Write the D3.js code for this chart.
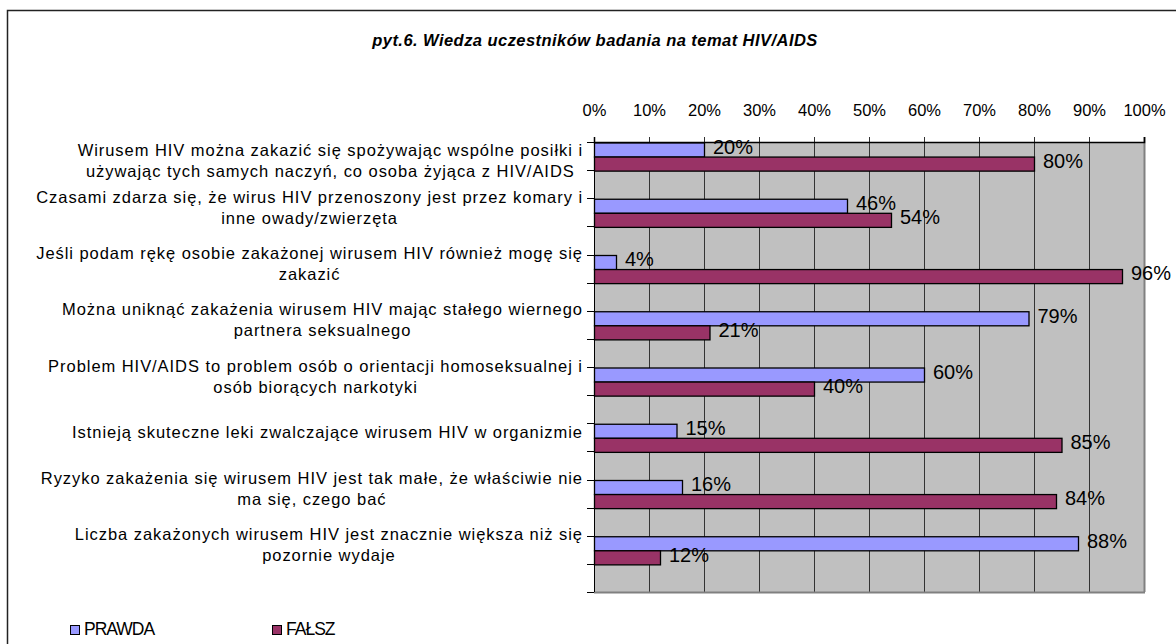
<!DOCTYPE html>
<html>
<head>
<meta charset="utf-8">
<script src="https://cdn.jsdelivr.net/npm/d3@7"></script>
<style>
  body { margin: 0; background: #fff; }
  svg { display: block; font-family: "Liberation Sans", Arial, sans-serif; }
</style>
</head>
<body>
<div id="chart"></div>
<script>
// pyt.6 – knowledge about HIV/AIDS, share of PRAWDA / FAŁSZ answers per statement.

const categories = [
  ["Wirusem HIV można zakazić się spożywając wspólne posiłki i", "używając tych samych naczyń, co osoba żyjąca z HIV/AIDS"],
  ["Czasami zdarza się, że wirus HIV przenoszony jest przez komary i", "inne owady/zwierzęta"],
  ["Jeśli podam rękę osobie zakażonej wirusem HIV również mogę się", "zakazić"],
  ["Można uniknąć zakażenia wirusem HIV mając stałego wiernego", "partnera seksualnego"],
  ["Problem HIV/AIDS to problem osób o orientacji homoseksualnej i", "osób biorących narkotyki"],
  ["Istnieją skuteczne leki zwalczające wirusem HIV w organizmie"],
  ["Ryzyko zakażenia się wirusem HIV jest tak małe, że właściwie nie", "ma się, czego bać"],
  ["Liczba zakażonych wirusem HIV jest znacznie większa niż się", "pozornie wydaje"],
];
const seriesNames = ["PRAWDA", "FAŁSZ"];
const prawda = [20, 46, 4, 79, 60, 15, 16, 88];
const falsz = [80, 54, 96, 21, 40, 85, 84, 12];
const xTicks = [0, 10, 20, 30, 40, 50, 60, 70, 80, 90, 100];
const colors = ["#9999ff", "#993366"];

const width = 1176, height = 644;
const m = { top: 142, right: 32, bottom: 52, left: 594 };
const iw = width - m.left - m.right;
const ih = height - m.top - m.bottom;

const svg = d3.select("#chart").append("svg")
  .attr("width", width).attr("height", height).attr("viewBox", `0 0 ${width} ${height}`);

// outer chart frame (runs off the right and bottom edges)
svg.append("rect").attr("x", 7.5).attr("y", 10.5).attr("width", width + 10).attr("height", height + 10)
  .attr("fill", "none").attr("stroke", "#222").attr("stroke-width", 1.5);

svg.append("text").attr("x", 595).attr("y", 46).attr("text-anchor", "middle")
  .attr("font-size", 16.5).attr("font-weight", "bold").attr("font-style", "italic")
  .attr("letter-spacing", 0.45)
  .text("pyt.6. Wiedza uczestników badania na temat HIV/AIDS");

const g = svg.append("g").attr("transform", `translate(${m.left},${m.top})`);

const x = d3.scaleLinear().domain([0, 100]).range([0, iw]);
const y = d3.scaleBand().domain(d3.range(categories.length)).range([0, ih]);
const barH = y.bandwidth() / 4;

g.append("rect").attr("width", iw).attr("height", ih).attr("fill", "#c0c0c0");

// vertical grid lines, extended upward as tick marks
g.append("g").selectAll("line").data(xTicks.slice(1)).join("line")
  .attr("x1", (d) => Math.round(x(d)) + 0.5).attr("x2", (d) => Math.round(x(d)) + 0.5)
  .attr("y1", -5).attr("y2", ih)
  .attr("stroke", (d) => (d === 100 ? "#808080" : "#333")).attr("stroke-width", (d) => (d === 100 ? 2 : 1));

g.append("line").attr("x1", 0).attr("x2", iw + 1).attr("y1", ih + 0.5).attr("y2", ih + 0.5)
  .attr("stroke", "#808080").attr("stroke-width", 2);

// top value axis
const xAxis = g.append("g").call(d3.axisTop(x).tickValues(xTicks).tickSize(5).tickFormat((d) => d + "%"));
xAxis.select(".domain").attr("stroke", "#000").attr("stroke-width", 1.5);
xAxis.selectAll(".tick line").remove();
xAxis.selectAll("text").attr("font-size", 16.5).attr("fill", "#000")
  .attr("font-family", "Liberation Sans, Arial, sans-serif").attr("y", -26);

// left category axis with ticks at every half band
const halfTicks = d3.range(categories.length * 2 + 1).map((i) => i * y.bandwidth() / 2);
g.append("line").attr("x1", 0.5).attr("x2", 0.5).attr("y1", 0).attr("y2", ih).attr("stroke", "#000");
g.append("g").selectAll("line").data(halfTicks).join("line")
  .attr("x1", -7).attr("x2", 0).attr("y1", (d) => Math.round(d) + 0.5).attr("y2", (d) => Math.round(d) + 0.5)
  .attr("stroke", "#000");

// category labels: lines centred on each other, widest line ends just left of the ticks
const lineGap = 21;
g.append("g").selectAll("text").data(categories).join("text")
  .attr("font-size", 16.5).attr("letter-spacing", 0.95).attr("fill", "#000")
  .attr("dominant-baseline", "middle").attr("text-anchor", "middle")
  .each(function (lines, i) {
    const t = d3.select(this);
    const spans = lines.map((ln) => t.append("tspan").text(ln));
    const maxW = d3.max(spans, (s) => s.node().getComputedTextLength());
    const cx = -11 - maxW / 2;
    // label block centred a little below the band top, never poking above the plot
    let top = y(i) + 11 - (lines.length - 1) * lineGap / 2;
    top = Math.max(top, 10);
    spans.forEach((s, k) => s.attr("x", cx).attr("y", top + k * lineGap));
  });

// bars
const series = [prawda, falsz];
series.forEach((vals, s) => {
  g.append("g").selectAll("rect").data(vals).join("rect")
    .attr("x", 0.5).attr("y", (d, i) => y(i) + 1 + s * barH)
    .attr("width", (d) => x(d)).attr("height", barH)
    .attr("fill", colors[s]).attr("stroke", "#000").attr("stroke-width", 1.3);
  g.append("g").selectAll("text").data(vals).join("text")
    .attr("x", (d) => x(d) + 9).attr("y", (d, i) => y(i) + 1 + s * barH + barH / 2 - 1.5)
    .attr("dominant-baseline", "middle").attr("font-size", 20).attr("fill", "#000")
    .text((d) => d + "%");
});

// legend
const leg = svg.append("g").attr("transform", "translate(70,625)");
seriesNames.forEach((name, s) => {
  const lg = leg.append("g").attr("transform", `translate(${s * 202},0)`);
  lg.append("rect").attr("x", 0.5).attr("y", 0.5).attr("width", 9).attr("height", 9)
    .attr("fill", colors[s]).attr("stroke", "#000");
  lg.append("text").attr("x", 14).attr("y", 5.5).attr("dominant-baseline", "middle")
    .attr("font-size", 17.5).attr("letter-spacing", -1).text(name);
});
</script>
</body>
</html>
